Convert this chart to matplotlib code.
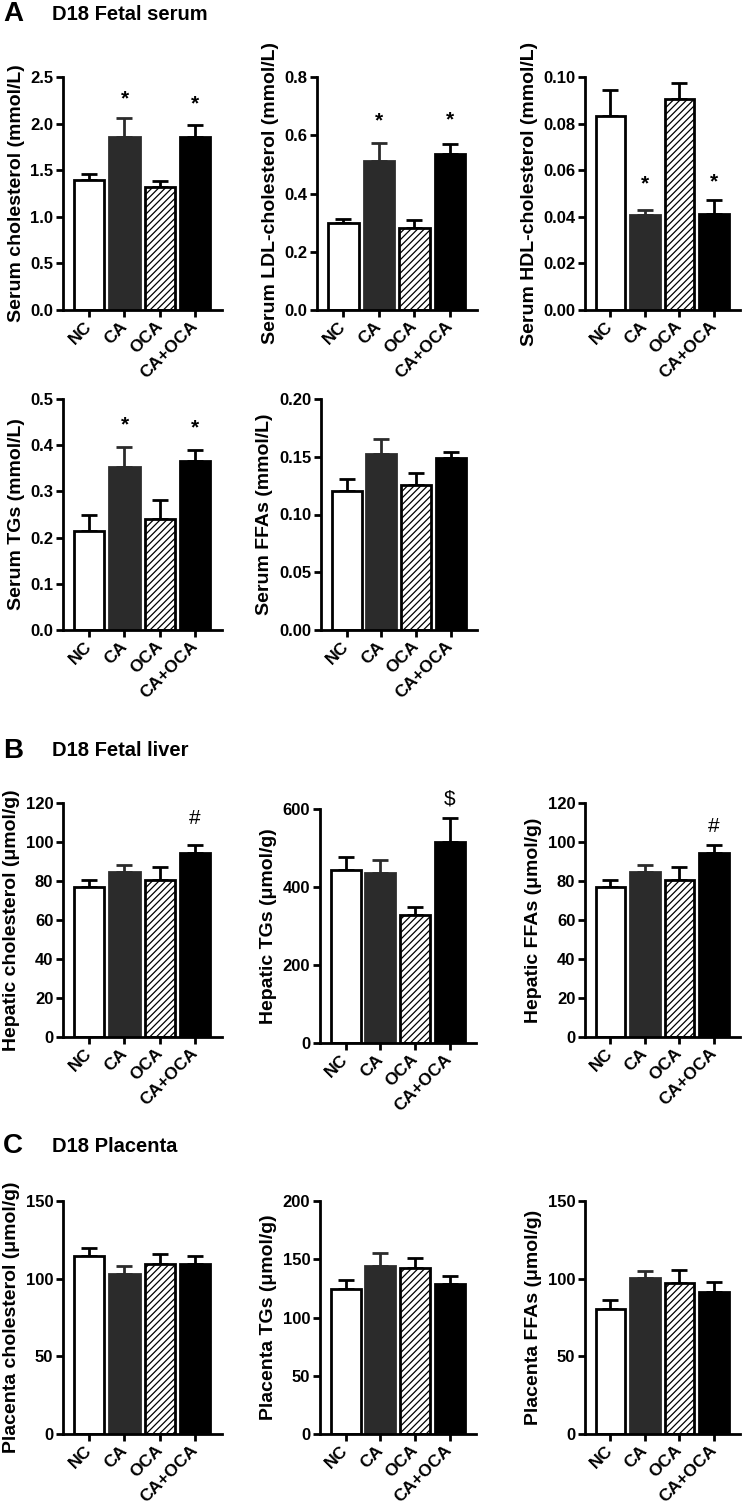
import numpy as np
import matplotlib
matplotlib.use('Agg')
import matplotlib.pyplot as plt

plt.rcParams['font.family'] = ['Liberation Sans', 'DejaVu Sans']
plt.rcParams['font.weight'] = 'bold'
plt.rcParams['hatch.linewidth'] = 0.9

groups = ['NC', 'CA', 'OCA', 'CA+OCA']

# A - fetal serum (mmol/L)
serum_chol = [1.39, 1.86, 1.32, 1.86]
serum_chol_sem = [0.07, 0.20, 0.06, 0.12]
serum_ldl = [0.30, 0.51, 0.28, 0.535]
serum_ldl_sem = [0.014, 0.065, 0.028, 0.034]
serum_hdl = [0.0834, 0.0407, 0.0907, 0.041]
serum_hdl_sem = [0.0112, 0.0024, 0.0067, 0.006]
serum_tg = [0.214, 0.352, 0.240, 0.365]
serum_tg_sem = [0.035, 0.044, 0.042, 0.025]
serum_ffa = [0.120, 0.152, 0.1257, 0.149]
serum_ffa_sem = [0.011, 0.013, 0.0103, 0.005]

# B - fetal liver (umol/g)
hep_chol = [76.9, 84.4, 80.3, 94.4]
hep_chol_sem = [3.8, 3.8, 7.1, 4.2]
hep_tg = [444, 436, 329, 515]
hep_tg_sem = [32, 34, 20, 61]
hep_ffa = [76.9, 84.4, 80.3, 94.4]
hep_ffa_sem = [3.8, 3.8, 7.1, 4.2]

# C - placenta (umol/g)
plac_chol = [114.9, 103.3, 109.3, 109.3]
plac_chol_sem = [5.1, 4.7, 6.8, 5.6]
plac_tg = [124.6, 144.6, 142.9, 128.6]
plac_tg_sem = [7.4, 11.1, 8.5, 6.8]
plac_ffa = [80.6, 100.4, 97.0, 91.2]
plac_ffa_sem = [5.7, 4.7, 8.6, 6.9]

# significance marks: {bar index: (symbol, y)}
serum_chol_marks = {1: ('*', 2.27), 3: ('*', 2.21)}
serum_ldl_marks = {1: ('*', 0.651), 3: ('*', 0.654)}
serum_hdl_marks = {1: ('*', 0.0543), 3: ('*', 0.055)}
serum_tg_marks = {1: ('*', 0.445), 3: ('*', 0.438)}
hep_chol_marks = {3: ('#', 112.3)}
hep_tg_marks = {3: ('$', 626)}
hep_ffa_marks = {3: ('#', 108)}

fills = ['white', '#2b2b2b', 'white', 'black']
edges = ['black', '#2b2b2b', 'black', 'black']
hatches = [None, None, '/////', None]

W, H = 742, 1507
fig = plt.figure(figsize=(W / 100, H / 100), dpi=100)


def px_rect(x0, x1, ytop, ybot):
    return [x0 / W, 1 - ybot / H, (x1 - x0) / W, (ybot - ytop) / H]


def draw_panel(rect, means, sems, ylabel, yticks, fmt, marks=None):
    ax = fig.add_axes(rect)
    x = np.arange(len(groups))
    for i in range(len(groups)):
        ax.errorbar(x[i], means[i], yerr=[[0], [sems[i]]], fmt='none',
                    ecolor=edges[i], elinewidth=2, capsize=5.5, capthick=2, zorder=1)
        ax.bar(x[i], means[i], width=0.86, color=fills[i], edgecolor=edges[i],
               linewidth=2, hatch=hatches[i], zorder=2)
    if marks:
        for i, (sym, y) in marks.items():
            txt = '\\$' if sym == '$' else sym
            w = 'bold' if sym == '*' else 'normal'
            ax.text(x[i], y, txt, ha='center', va='center', fontsize=15,
                    fontweight=w, clip_on=False)
    ax.set_xlim(-0.74, 3.76)
    ax.set_ylim(0, yticks[-1])
    ax.set_yticks(yticks)
    ax.set_yticklabels([fmt.format(v) for v in yticks])
    ax.set_xticks(x)
    ax.set_xticklabels(groups, rotation=45, ha='right', va='center',
                       rotation_mode='anchor', fontsize=12.5)
    for s in ['top', 'right']:
        ax.spines[s].set_visible(False)
    for s in ['left', 'bottom']:
        ax.spines[s].set_linewidth(2)
    ax.tick_params(width=2, length=5, labelsize=12, pad=2)
    ax.tick_params(axis='x', labelsize=12.5, pad=5)
    ax.set_ylabel(ylabel, fontsize=14, fontweight='bold', labelpad=4)
    return ax


# row A1
draw_panel(px_rect(63, 222, 77, 310), serum_chol, serum_chol_sem,
           'Serum cholesterol (mmol/L)', np.arange(0, 2.51, 0.5), '{:.1f}', serum_chol_marks)
draw_panel(px_rect(317, 477, 77, 310), serum_ldl, serum_ldl_sem,
           'Serum LDL-cholesterol (mmol/L)', np.arange(0, 0.81, 0.2), '{:.1f}', serum_ldl_marks)
draw_panel(px_rect(585, 740, 77, 310), serum_hdl, serum_hdl_sem,
           'Serum HDL-cholesterol (mmol/L)', np.arange(0, 0.101, 0.02), '{:.2f}', serum_hdl_marks)
# row A2
draw_panel(px_rect(63, 222, 399, 630), serum_tg, serum_tg_sem,
           'Serum TGs (mmol/L)', np.arange(0, 0.51, 0.1), '{:.1f}', serum_tg_marks)
draw_panel(px_rect(321, 477, 399, 630), serum_ffa, serum_ffa_sem,
           'Serum FFAs (mmol/L)', np.arange(0, 0.201, 0.05), '{:.2f}')
# row B
draw_panel(px_rect(63, 222, 803, 1037), hep_chol, hep_chol_sem,
           'Hepatic cholesterol (μmol/g)', np.arange(0, 121, 20), '{:.0f}', hep_chol_marks)
draw_panel(px_rect(320, 476, 809, 1043), hep_tg, hep_tg_sem,
           'Hepatic TGs (μmol/g)', np.arange(0, 601, 200), '{:.0f}', hep_tg_marks)
draw_panel(px_rect(585, 740, 803, 1037), hep_ffa, hep_ffa_sem,
           'Hepatic FFAs (μmol/g)', np.arange(0, 121, 20), '{:.0f}', hep_ffa_marks)
# row C
draw_panel(px_rect(63, 222, 1201, 1434), plac_chol, plac_chol_sem,
           'Placenta cholesterol (μmol/g)', np.arange(0, 151, 50), '{:.0f}')
draw_panel(px_rect(320, 476, 1201, 1434), plac_tg, plac_tg_sem,
           'Placenta TGs (μmol/g)', np.arange(0, 201, 50), '{:.0f}')
draw_panel(px_rect(585, 740, 1201, 1434), plac_ffa, plac_ffa_sem,
           'Placenta FFAs (μmol/g)', np.arange(0, 151, 50), '{:.0f}')

# section headings
for letter, title, ypx in [('A', 'D18 Fetal serum', 14),
                           ('B', 'D18 Fetal liver', 751),
                           ('C', 'D18 Placenta', 1146)]:
    fig.text(3 / W, 1 - ypx / H, letter, fontsize=20, fontweight='bold', va='center')
    fig.text(52 / W, 1 - ypx / H, title, fontsize=14.5, fontweight='bold', va='center')

fig.savefig('out.png', dpi=100)
